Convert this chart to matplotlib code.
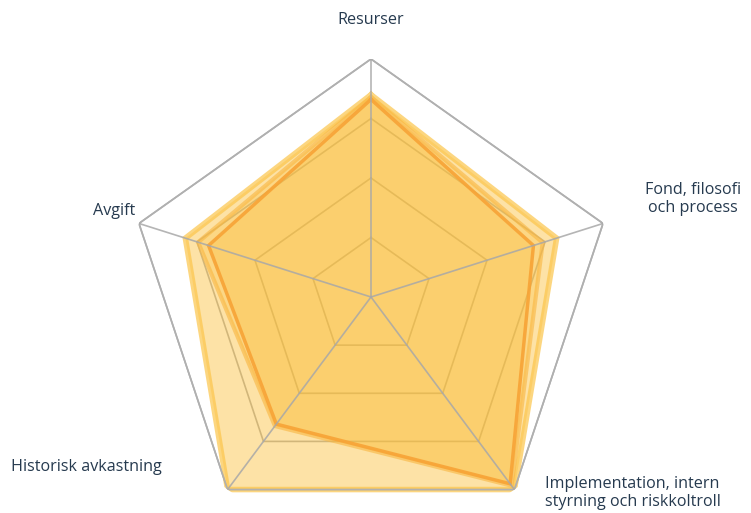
import numpy as np
import matplotlib
matplotlib.use("Agg")
import matplotlib.pyplot as plt

# axes, clockwise from the top
categories = ["Resurser", "Fond, filosofi\noch process",
              "Implementation, intern\nstyrning och riskkoltroll",
              "Historisk avkastning", "Avgift"]

# three overlaid series (share of the outer ring)
light  = [0.85, 0.80, 1.00, 1.00, 0.80]
medium = [0.84, 0.74, 0.98, 0.67, 0.745]
dark   = [0.83, 0.70, 0.97, 0.66, 0.70]

grid_levels = [0.25, 0.5, 0.75, 1.0]

W, H = 751, 513
fig = plt.figure(figsize=(W / 100, H / 100), dpi=100)

# polar axes, centre at (371, 297) px, slightly wider than tall
cx, cy, Rx, Ry = 371, 297, 244, 238
ax = fig.add_axes([(cx - Rx) / W, (H - cy - Ry) / H, 2 * Rx / W, 2 * Ry / H],
                  projection="polar")
ax.set_aspect("auto")
ax.set_theta_zero_location("N")
ax.set_theta_direction(-1)
ax.set_ylim(0, 1)
ax.grid(False)
ax.spines["polar"].set_visible(False)
ax.set_xticks([])
ax.set_yticks([])
ax.patch.set_alpha(0)

n = len(categories)
theta = np.linspace(0, 2 * np.pi, n, endpoint=False)
theta_c = np.append(theta, theta[0])

#
# grid pentagons (under the fills) and spokes (on top)
for lv in grid_levels:
    ax.plot(theta_c, [lv] * (n + 1), color="#b0b0b0", lw=1.2, zorder=1)
ax.plot(theta_c, [1] * (n + 1), color="#b0b0b0", lw=1.2, zorder=10)
for t in theta:
    ax.plot([t, t], [0, 1], color="#a8a8a8", lw=1.2, alpha=0.85, zorder=10)

#
# series
def draw(vals, fill_alpha, edge, edge_alpha, lw, z):
    v = np.append(vals, vals[0])
    ax.fill(theta_c, v, color="#fbbf3a", alpha=fill_alpha, lw=0, zorder=z)
    ax.plot(theta_c, v, color=edge, alpha=edge_alpha, lw=lw,
            solid_joinstyle="miter", zorder=z + 0.5)

draw(light, 0.45, "#fcc54a", 0.7, 4.0, 2)
draw(medium, 0.30, "#f9b640", 0.6, 3.0, 3)
draw(dark, 0.30, "#f7a336", 0.9, 2.5, 4)

#
# labels
lab = dict(color="#263a4f", fontsize=11.6, family="Open Sans")
fig.text(371 / W, 1 - 20 / H, categories[0], ha="center", va="center", **lab)
fig.text(693 / W, 1 - 199 / H, categories[1], ha="center", va="center",
         linespacing=1.2, **lab)
fig.text(545 / W, 1 - 493 / H, categories[2], ha="left", va="center",
         linespacing=1.2, **lab)
fig.text(11 / W, 1 - 467 / H, categories[3], ha="left", va="center", **lab)
fig.text(114 / W, 1 - 211 / H, categories[4], ha="center", va="center", **lab)

fig.savefig("out.png", dpi=100)
